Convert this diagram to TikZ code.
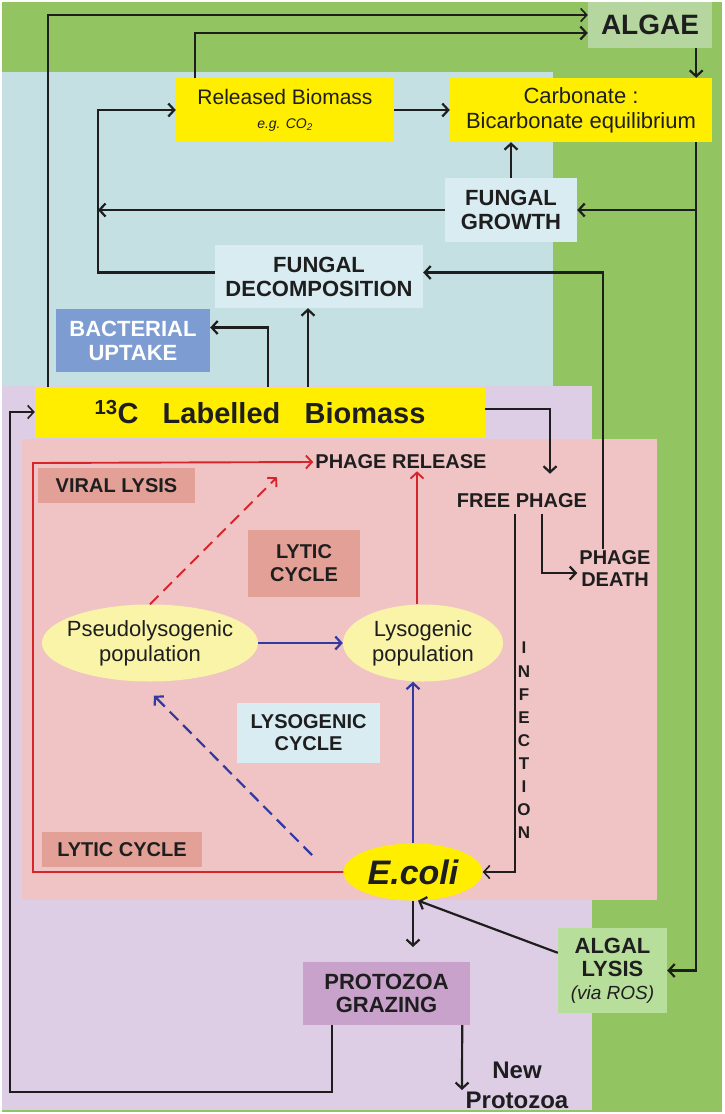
\documentclass[tikz,border=0pt]{standalone}
\usepackage{fontspec}
\setmainfont{Liberation Sans}
\usetikzlibrary{shapes.geometric, calc, arrows.meta}
\newcommand{\fsz}[2]{\fontsize{#1}{#2}\selectfont}
\definecolor{bggreen}{RGB}{146,196,98}
\definecolor{bgblue}{RGB}{196,224,226}
\definecolor{bglav}{RGB}{221,206,230}
\definecolor{bgpink}{RGB}{240,196,196}
\definecolor{ybox}{RGB}{255,238,0}
\definecolor{algaebox}{RGB}{182,214,160}
\definecolor{fungbox}{RGB}{216,236,242}
\definecolor{bactbox}{RGB}{125,157,210}
\definecolor{salmon}{RGB}{226,160,150}
\definecolor{paley}{RGB}{250,244,168}
\definecolor{protobox}{RGB}{200,162,202}
\definecolor{algalbox}{RGB}{184,222,156}
\definecolor{lyred}{RGB}{214,38,44}
\definecolor{lyblue}{RGB}{48,58,160}
\definecolor{ln}{RGB}{30,30,30}

\begin{document}
\begin{tikzpicture}[x=1pt,y=-1pt,
  every node/.style={align=center,text=ln,inner sep=2pt},
  box/.style={rectangle,inner sep=0pt},
  arr/.style={draw=ln,line width=2.2pt,-{Straight Barb[length=6pt,width=13pt]}},
  thinarr/.style={arr,line width=1.6pt},
  redarr/.style={draw=lyred,line width=1.9pt,-{Straight Barb[length=6pt,width=13pt]}},
  bluearr/.style={draw=lyblue,line width=2.2pt,-{Straight Barb[length=6pt,width=13pt]}},
  dashline/.style={dash pattern=on 12pt off 7pt}]
  \useasboundingbox (0,0) rectangle (724,1114);
  % background zones
  \fill[bggreen] (2,2) rectangle (722,1112);
  \fill[bgblue] (2,72) rectangle (553,387);
  \fill[bglav] (2,386) rectangle (592,1110);
  \fill[bgpink] (22,439) rectangle (657,900);

  % carbon pools and processes
  \node[box,fill=algaebox,minimum width=124pt,minimum height=46pt,font=\bfseries\fsz{28}{29}] (algae) at (650,25) {ALGAE};
  \node[box,fill=ybox,minimum width=218pt,minimum height=64pt,font=\fsz{21}{24}] (released) at (285,110)
    {Released Biomass\\{\itshape\fsz{14}{15}e.g. CO\textsubscript{2}}};
  \node[box,fill=ybox,minimum width=262pt,minimum height=64pt,font=\fsz{22}{25}] (carbonate) at (581,110)
    {Carbonate :\\Bicarbonate equilibrium};
  \node[box,fill=fungbox,minimum width=132pt,minimum height=64pt,font=\bfseries\fsz{22}{24}] (fgrowth) at (511,210) {FUNGAL\\GROWTH};
  \node[box,fill=fungbox,minimum width=208pt,minimum height=63pt,font=\bfseries\fsz{22}{24}] (fdecomp) at (319,276.5) {FUNGAL\\DECOMPOSITION};
  \node[box,fill=bactbox,minimum width=154pt,minimum height=63pt,text=white,font=\bfseries\fsz{22}{24}] (bact) at (133,340.5) {BACTERIAL\\UPTAKE};
  \node[box,fill=ybox,minimum width=450pt,minimum height=50pt,font=\bfseries\fsz{29}{30}] (biomass) at (260,412)
    {\textsuperscript{13}C\ \ \ Labelled\ \ \ Biomass};

  % phage part
  \node[font=\bfseries\fsz{20}{22}] (phrelease) at (401,462) {PHAGE RELEASE};
  \node[box,fill=salmon,minimum width=157pt,minimum height=35pt,font=\bfseries\fsz{20}{22}] (vlysis) at (116.5,485.5) {VIRAL LYSIS};
  \node[font=\bfseries\fsz{20}{22}] (freephage) at (522,501) {FREE PHAGE};
  \node[font=\bfseries\fsz{20}{22}] (phdeath) at (615,569) {PHAGE\\DEATH};
  \node[box,fill=salmon,minimum width=112pt,minimum height=67pt,font=\bfseries\fsz{20}{23}] (lytica) at (304,563.5) {LYTIC\\CYCLE};
  \node[ellipse,fill=paley,minimum width=216pt,minimum height=77pt,inner sep=0pt,inner xsep=-8pt,font=\fsz{22}{25}] (pseudo) at (150,643)
    {Pseudolysogenic\\population};
  \node[ellipse,fill=paley,minimum width=160pt,minimum height=77pt,inner sep=0pt,font=\fsz{22}{25}] (lyso) at (423,643)
    {Lysogenic\\population};
  \node[box,fill=fungbox,minimum width=143pt,minimum height=60pt,font=\bfseries\fsz{20}{22}] (lysocyc) at (308.5,733) {LYSOGENIC\\CYCLE};
  \node[font=\bfseries\fsz{17}{23.1}] (infect) at (524,740.5) {I\\N\\F\\E\\C\\T\\I\\O\\N};
  \node[box,fill=salmon,minimum width=160pt,minimum height=35pt,font=\bfseries\fsz{20}{22}] (lyticb) at (122,849.5) {LYTIC CYCLE};
  \node[ellipse,fill=ybox,minimum width=139pt,minimum height=57pt,inner sep=0pt,font=\bfseries\itshape\fsz{34}{36}] (ecoli) at (413,872) {E.coli};

  % grazing and algal lysis
  \node[box,fill=protobox,minimum width=167pt,minimum height=63pt,font=\bfseries\fsz{22}{23}] (protozoa) at (386.5,993.5) {PROTOZOA\\GRAZING};
  \node[box,fill=algalbox,minimum width=109pt,minimum height=85pt,font=\bfseries\fsz{22}{23}] (alysis) at (612.5,970.5)
    {ALGAL\\LYSIS\\{\mdseries\itshape\fsz{19}{24}(via ROS)}};
  \node[font=\bfseries\fsz{24}{30}] (newproto) at (517,1085) {New\\Protozoa};

  \coordinate (rb) at (98,110);
  \coordinate (rc) at (33,463);
  \coordinate (lo) at (10,1092);
  \coordinate (bd) at (312,855);
  \coordinate (grz) at (413,947);
  \coordinate (np) at (462,1090);

  % carbon flows
  \draw[thinarr] ([xshift=13pt]biomass.north west) |- ([yshift=10pt]algae.west);
  \draw[arr] ([xshift=19pt]released.north west) |- ([yshift=-8pt]algae.west);
  \draw[arr] ([xshift=-16pt]algae.south east) -- ([xshift=-16pt]carbonate.north east);
  \draw[arr] (released) -- (carbonate);
  \draw[arr] (fgrowth) -- (fgrowth |- carbonate.south);
  \draw[arr] ([xshift=-16pt]carbonate.south east) |- (fgrowth.east);
  \draw[arr] ([xshift=-16pt]carbonate.south east) |- (alysis.east);
  \draw[arr] (fgrowth.west) -- (fgrowth.west -| rb);
  \draw[arr] ([yshift=4pt]fdecomp.west) -| (rb) -- (released.west);
  \draw[arr] ([xshift=48pt]biomass.north) -- ([xshift=-11pt]fdecomp.south);
  \draw[arr] ([xshift=8pt]biomass.north) |- ([yshift=13pt]bact.east);
  \draw[arr] ([xshift=-12pt]phdeath.north) |- ([yshift=4pt]fdecomp.east);
  \draw[arr] ([yshift=3pt]biomass.east) -| ([xshift=28pt,yshift=18pt]freephage.north);
  \draw[arr] ([xshift=20pt,yshift=-4pt]freephage.south) |- ([yshift=-4pt]phdeath.west);
  \draw[thinarr] ([xshift=-7pt,yshift=-4pt]freephage.south) |- (ecoli.east);

  % lytic and lysogenic cycles
  \draw[redarr] (ecoli.west) -| (rc) -- (phrelease.west);
  \draw[redarr,dashline] (pseudo.north) -- ([xshift=-124pt,yshift=-6pt]phrelease.south);
  \draw[redarr] ($(lyso.north)+(-6,0)$) -- ($(lyso.north |- phrelease.south)+(-6,0)$);
  \draw[bluearr] (pseudo) -- (lyso);
  \draw[bluearr] (ecoli) -- (ecoli |- lyso.south);
  \draw[bluearr,dashline] (bd) -- ($(pseudo.south)+(4,14)$);

  \draw[arr] (ecoli) -- (grz);
  \draw[arr] ([yshift=-25pt]alysis.north west) -- (ecoli.-80);
  \draw[thinarr] ([xshift=29pt]protozoa.south west) |- (lo) |- (biomass.west);
  \draw[arr] ([xshift=-8pt]protozoa.south east) -- (np);
\end{tikzpicture}
\end{document}
